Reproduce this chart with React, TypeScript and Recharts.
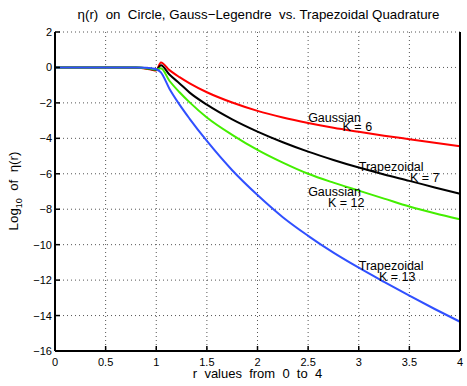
import React from 'react';
import { LineChart, Line, XAxis, YAxis, CartesianGrid, ReferenceDot } from 'recharts';

const rValues = [0, 0.6, 0.8, 0.9, 0.95, 1.0, 1.046, 1.13, 1.23, 1.33, 1.5, 1.75, 2.0, 2.25, 2.5, 2.75, 3.0, 3.25, 3.5, 3.75, 4.0];
const gaussK6 = [0, 0, -0.02, -0.07, -0.12, -0.17, 0.28, -0.15, -0.55, -0.9, -1.4, -1.98, -2.45, -2.82, -3.13, -3.4, -3.63, -3.85, -4.05, -4.25, -4.45];
const trapK7 = [0, 0, -0.01, -0.05, -0.1, -0.14, 0.12, -0.4, -0.9, -1.42, -2.1, -2.93, -3.62, -4.22, -4.75, -5.22, -5.65, -6.04, -6.4, -6.77, -7.13];
const gaussK12 = [0, 0, -0.01, -0.04, -0.08, -0.12, -0.05, -0.75, -1.4, -1.97, -2.82, -3.8, -4.65, -5.37, -6.0, -6.5, -6.95, -7.4, -7.85, -8.23, -8.57];
const trapK13 = [0, 0, 0, -0.02, -0.05, -0.1, -0.28, -1.2, -2.1, -2.9, -4.15, -5.8, -7.2, -8.45, -9.5, -10.45, -11.3, -12.1, -12.88, -13.63, -14.35];

const xTicks = [0, 0.5, 1, 1.5, 2, 2.5, 3, 3.5, 4];
const xTickLabels = ['0', '0.5', '1', '1.5', '2', '2.5', '3', '3.5', '4'];
const yTicks = [-16, -14, -12, -10, -8, -6, -4, -2, 0, 2];
const yTickLabels = ['\u221216', '\u221214', '\u221212', '\u221210', '\u22128', '\u22126', '\u22124', '\u22122', '0', '2'];

const annotations = [
  { r: 2.5, v: -3.1, text: 'Gaussian' },
  { r: 2.84, v: -3.57, text: 'K = 6' },
  { r: 3.0, v: -5.82, text: 'Trapezoidal' },
  { r: 3.506, v: -6.44, text: 'K = 7' },
  { r: 2.5, v: -7.28, text: 'Gaussian' },
  { r: 2.696, v: -7.85, text: 'K = 12' },
  { r: 3.0, v: -11.45, text: 'Trapezoidal' },
  { r: 3.2, v: -12.07, text: 'K = 13' },
];

const data = rValues.map((r, i) => ({ r, g6: gaussK6[i], t7: trapK7[i], g12: gaussK12[i], t13: trapK13[i] }));

const FONT = '"Liberation Sans", Arial, Helvetica, sans-serif';
const TICK = 5;

const BottomTick = (props: any) => {
  const { x, y, payload } = props;
  const i = xTicks.indexOf(payload.value);
  return (
    <g>
      <line x1={x} y1={y} x2={x} y2={y - TICK} stroke="#000" strokeWidth={1.5} />
      <text x={x} y={y + 15} textAnchor="middle" fontSize={11} fontFamily={FONT} fill="#000">
        {i >= 0 ? xTickLabels[i] : ''}
      </text>
    </g>
  );
};

const TopTick = (props: any) => {
  const { x, y } = props;
  return <line x1={x} y1={y} x2={x} y2={y + TICK} stroke="#000" strokeWidth={1.5} />;
};

const LeftTick = (props: any) => {
  const { x, y, payload } = props;
  const i = yTicks.indexOf(payload.value);
  return (
    <g>
      <line x1={x} y1={y} x2={x + TICK} y2={y} stroke="#000" strokeWidth={1.5} />
      <text x={x - 3} y={y + 4} textAnchor="end" fontSize={11} fontFamily={FONT} fill="#000">
        {i >= 0 ? yTickLabels[i] : ''}
      </text>
    </g>
  );
};

const RightTick = (props: any) => {
  const { x, y } = props;
  return <line x1={x} y1={y} x2={x - TICK} y2={y} stroke="#000" strokeWidth={1.5} />;
};

const AnnotText = (text: string) => (props: any) => (
  <text x={props.cx} y={props.cy} fontSize={12.5} fontFamily={FONT} fill="#000" textAnchor="start">
    {text}
  </text>
);

export default function App() {
  const axisLine = { stroke: '#000', strokeWidth: 2 };
  return (
    <div style={{ position: 'absolute', left: 0, top: 0, width: 467, height: 386, background: '#fff' }}>
      <LineChart width={467} height={386} data={data} margin={{ top: 32, right: 0, bottom: 0, left: 0 }}>
        <CartesianGrid stroke="#555" strokeDasharray="1 3" strokeWidth={1} />
        <XAxis dataKey="r" type="number" domain={[0, 4]} ticks={xTicks} height={35}
          tickSize={0} tickMargin={0} tickLine={false} axisLine={axisLine} tick={<BottomTick />} interval={0} />
        <XAxis xAxisId="top" orientation="top" dataKey="r" type="number" domain={[0, 4]} ticks={xTicks} height={0}
          tickSize={0} tickMargin={0} tickLine={false} axisLine={axisLine} tick={<TopTick />} interval={0} />
        <YAxis type="number" domain={[-16, 2]} ticks={yTicks} width={55}
          tickSize={0} tickMargin={0} tickLine={false} axisLine={axisLine} tick={<LeftTick />} interval={0} />
        <YAxis yAxisId="right" orientation="right" type="number" domain={[-16, 2]} ticks={yTicks} width={7}
          tickSize={0} tickMargin={0} tickLine={false} axisLine={axisLine} tick={<RightTick />} interval={0} />
        <Line type="monotone" dataKey="g6" stroke="#ff0000" strokeWidth={2} dot={false} isAnimationActive={false} />
        <Line type="monotone" dataKey="t7" stroke="#000000" strokeWidth={2} dot={false} isAnimationActive={false} />
        <Line type="monotone" dataKey="g12" stroke="#44ee00" strokeWidth={2} dot={false} isAnimationActive={false} />
        <Line type="monotone" dataKey="t13" stroke="#3050ff" strokeWidth={2} dot={false} isAnimationActive={false} />
        {annotations.map((a, i) => (
          <ReferenceDot key={i} x={a.r} y={a.v} r={0} shape={AnnotText(a.text)} />
        ))}
      </LineChart>
      <svg width={467} height={386} style={{ position: 'absolute', left: 0, top: 0, pointerEvents: 'none' }}>
        <text x={258.5} y={19} textAnchor="middle" fontSize={13.3} fontFamily={FONT} fill="#000" style={{ whiteSpace: 'pre' }}>
          {'\u03b7(r)  on  Circle, Gauss\u2212Legendre  vs. Trapezoidal Quadrature'}
        </text>
        <text x={257.5} y={378} textAnchor="middle" fontSize={13} fontFamily={FONT} fill="#000" style={{ whiteSpace: 'pre' }}>
          {'r  values  from  0  to  4'}
        </text>
        <text transform="translate(18,191) rotate(-90)" textAnchor="middle" fontSize={13.3} fontFamily={FONT} fill="#000" style={{ whiteSpace: 'pre' }}>
          <tspan>Log</tspan>
          <tspan fontSize={9} dy={4}>10</tspan>
          <tspan dy={-4}>{'  of  \u03b7(r)'}</tspan>
        </text>
      </svg>
    </div>
  );
}
